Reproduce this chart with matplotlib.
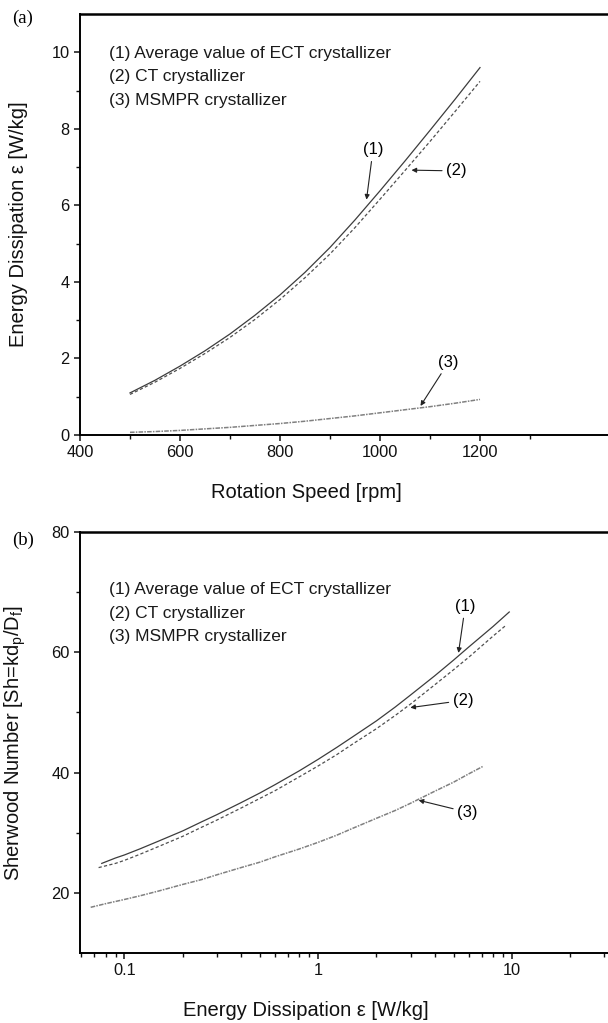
import numpy as np
import matplotlib
matplotlib.use("Agg")
import matplotlib.pyplot as plt
from matplotlib.ticker import FixedLocator, LogLocator, NullFormatter

plt.rcParams['font.family'] = ['Liberation Sans', 'DejaVu Sans']
plt.rcParams['mathtext.fontset'] = 'custom'
plt.rcParams['mathtext.rm'] = 'Liberation Sans'

# (a) energy dissipation vs rotation speed
speed_rpm = [500, 550, 600, 650, 700, 750, 800, 850, 900, 950,
             1000, 1050, 1100, 1150, 1200]
eps_ect = [1.10, 1.43, 1.80, 2.20, 2.64, 3.13, 3.66, 4.25, 4.90, 5.62,
           6.38, 7.16, 7.96, 8.77, 9.60]
eps_ct = [1.06, 1.38, 1.74, 2.13, 2.55, 3.02, 3.54, 4.11, 4.73, 5.42,
          6.16, 6.91, 7.67, 8.45, 9.24]
eps_msmpr = [0.07, 0.09, 0.12, 0.16, 0.20, 0.25, 0.30, 0.36, 0.43, 0.50,
             0.58, 0.66, 0.74, 0.83, 0.93]

# (b) Sherwood number vs energy dissipation
eps_b_ect = [0.0764, 0.09, 0.1, 0.12, 0.15, 0.2, 0.25, 0.3, 0.4, 0.5, 0.6,
             0.8, 1.0, 1.25, 1.5, 2.0, 2.5, 3.0, 4.0, 5.0, 6.0, 8.0, 9.69]
sh_ect = [24.9, 25.8, 26.3, 27.3, 28.6, 30.3, 31.8, 33.0, 35.0, 36.6, 38.0,
          40.3, 42.2, 44.2, 45.9, 48.6, 50.9, 52.9, 56.1, 58.7, 60.9, 64.3, 66.7]
eps_b_ct = [0.0736, 0.09, 0.1, 0.12, 0.15, 0.2, 0.25, 0.3, 0.4, 0.5, 0.6,
            0.8, 1.0, 1.25, 1.5, 2.0, 2.5, 3.0, 4.0, 5.0, 6.0, 8.0, 9.25]
sh_ct = [24.2, 24.9, 25.4, 26.4, 27.7, 29.4, 30.9, 32.1, 34.1, 35.7, 37.0,
         39.3, 41.1, 43.0, 44.7, 47.3, 49.5, 51.4, 54.6, 57.1, 59.2, 62.7, 64.4]
eps_b_msmpr = [0.067, 0.08, 0.1, 0.12, 0.15, 0.2, 0.25, 0.3, 0.4, 0.5, 0.6,
               0.8, 1.0, 1.25, 1.5, 2.0, 2.5, 3.0, 4.0, 5.0, 6.0, 7.06]
sh_msmpr = [17.6, 18.2, 18.9, 19.5, 20.3, 21.4, 22.2, 23.0, 24.2, 25.1, 26.0,
            27.3, 28.4, 29.6, 30.7, 32.4, 33.7, 34.9, 36.9, 38.4, 39.8, 41.0]

legend_lines = ["(1) Average value of ECT crystallizer",
                "(2) CT crystallizer",
                "(3) MSMPR crystallizer"]

W, H = 608, 1023
fig = plt.figure(figsize=(W / 100, H / 100), dpi=100)

def px_axes(left, top, right, bottom):
    return fig.add_axes([left / W, 1 - bottom / H, (right - left) / W, (bottom - top) / H])

ax1 = px_axes(80, 14, 630, 435)
ax2 = px_axes(80, 532, 630, 953)

c1, c2, c3 = '#3c3c3c', '#505050', '#808080'
dashes_ct = (0, (2.6, 1.8))
dashes_ms = (0, (3, 0.8, 1, 0.8))

def style_axes(ax):
    for side in ('left', 'bottom'):
        ax.spines[side].set_linewidth(1.4)
    ax.spines['top'].set_linewidth(1.8)
    ax.spines['right'].set_visible(False)
    ax.tick_params(which='both', direction='out', top=False, right=False,
                   labelsize=11.8, colors='#111111', pad=3)
    ax.tick_params(which='major', length=4.5, width=1.1)
    ax.tick_params(which='minor', length=3, width=1.0)

def write_legend(ax, y0):
    for i, line in enumerate(legend_lines):
        ax.text(0.052, y0 - i * 0.056, line, transform=ax.transAxes,
                fontsize=12.5, color='#1a1a1a', va='center', ha='left')

arrow = dict(arrowstyle='-|>', color='#222222', lw=0.8, mutation_scale=7,
             shrinkA=1, shrinkB=0)

# --- panel (a)
ax1.plot(speed_rpm, eps_ect, color=c1, lw=0.9)
ax1.plot(speed_rpm, eps_ct, color=c2, lw=0.9, linestyle=dashes_ct)
ax1.plot(speed_rpm, eps_msmpr, color=c3, lw=1.1, linestyle=dashes_ms)
ax1.set_xlim(400, 1500)
ax1.set_ylim(0, 11)
ax1.xaxis.set_major_locator(FixedLocator([400, 600, 800, 1000, 1200]))
ax1.xaxis.set_minor_locator(FixedLocator([500, 700, 900, 1100, 1300]))
ax1.yaxis.set_major_locator(FixedLocator([0, 2, 4, 6, 8, 10]))
ax1.yaxis.set_minor_locator(FixedLocator([1, 3, 5, 7, 9]))
style_axes(ax1)
ax1.set_xlabel('Rotation Speed [rpm]', fontsize=14.5, color='#111111')
ax1.set_ylabel('Energy Dissipation ε [W/kg]', fontsize=14.5, color='#111111')
ax1.xaxis.set_label_coords(0.411, -0.113)
ax1.yaxis.set_label_coords(-0.095, 0.5)
write_legend(ax1, 0.907)

ax1.annotate('(1)', xy=(973, 6.15), xytext=(986, 7.45), fontsize=12,
             ha='center', va='center', arrowprops=arrow)
ax1.annotate('(2)', xy=(1063, 6.92), xytext=(1153, 6.9), fontsize=12,
             ha='center', va='center', arrowprops=arrow)
ax1.annotate('(3)', xy=(1081, 0.76), xytext=(1137, 1.9), fontsize=12,
             ha='center', va='center', arrowprops=arrow)

# --- panel (b)
ax2.plot(eps_b_ect, sh_ect, color=c1, lw=0.9)
ax2.plot(eps_b_ct, sh_ct, color=c2, lw=0.9, linestyle=dashes_ct)
ax2.plot(eps_b_msmpr, sh_msmpr, color=c3, lw=1.1, linestyle=dashes_ms)
ax2.set_xscale('log')
ax2.set_xlim(0.059, 40.7)
ax2.set_ylim(10, 80)
ax2.xaxis.set_major_locator(FixedLocator([0.1, 1, 10]))
ax2.xaxis.set_major_formatter(plt.FuncFormatter(lambda v, p: f'{v:g}'))
ax2.xaxis.set_minor_locator(LogLocator(base=10, subs=np.arange(2, 10)))
ax2.xaxis.set_minor_formatter(NullFormatter())
ax2.yaxis.set_major_locator(FixedLocator([20, 40, 60, 80]))
ax2.yaxis.set_minor_locator(FixedLocator([30, 50, 70]))
style_axes(ax2)
ax2.set_xlabel('Energy Dissipation ε [W/kg]', fontsize=14.5, color='#111111')
ax2.set_ylabel(r'Sherwood Number [Sh=kd$_\mathregular{p}$/D$_\mathregular{f}$]',
               fontsize=14.5, color='#111111')
ax2.xaxis.set_label_coords(0.411, -0.113)
ax2.yaxis.set_label_coords(-0.095, 0.5)
write_legend(ax2, 0.863)

ax2.annotate('(1)', xy=(5.3, 59.9), xytext=(5.74, 67.6), fontsize=12,
             ha='center', va='center', arrowprops=arrow)
ax2.annotate('(2)', xy=(2.99, 50.8), xytext=(5.6, 52.0), fontsize=12,
             ha='center', va='center', arrowprops=arrow)
ax2.annotate('(3)', xy=(3.3, 35.4), xytext=(5.9, 33.4), fontsize=12,
             ha='center', va='center', arrowprops=arrow)

# panel letters
fig.text(12 / W, 1 - 18 / H, '(a)', family='Liberation Serif', fontsize=13.5,
         ha='left', va='center')
fig.text(12 / W, 1 - 540 / H, '(b)', family='Liberation Serif', fontsize=13.5,
         ha='left', va='center')

fig.savefig('out.png', dpi=100)
